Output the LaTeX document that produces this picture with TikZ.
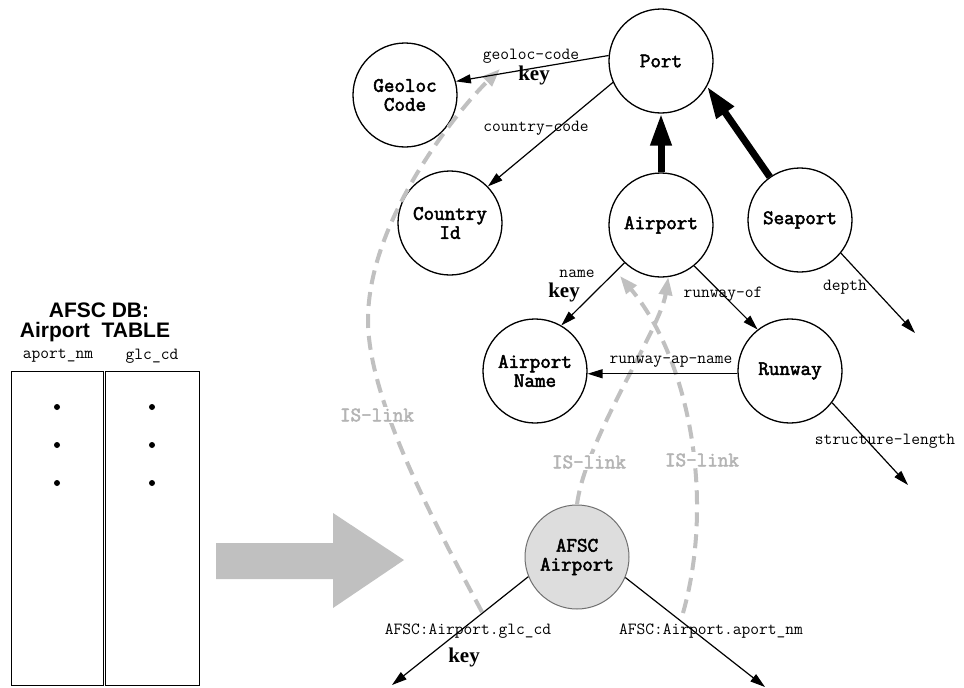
\documentclass[tikz,border=0pt]{standalone}
\usepackage{fontspec}
\setmainfont{Liberation Serif}
\setsansfont{Liberation Sans}
\newfontfamily\nodett[FakeBold=2.5]{Latin Modern Mono}
\usetikzlibrary{arrows.meta}
\definecolor{linkgray}{HTML}{C0C0C0}
\definecolor{islabel}{HTML}{B4B4B4}
\definecolor{afscfill}{HTML}{DDDDDD}
\definecolor{afscdraw}{HTML}{707070}
\begin{document}
\begin{tikzpicture}[x=1pt,y=-1pt,
  ent/.style={circle, draw, line width=1.3pt, minimum size=104pt, inner sep=0pt, align=center,
    font=\nodett\fontsize{20.5}{19}\selectfont},
  rel/.style={line width=1.2pt, -{Triangle[length=15pt,width=9pt]}},
  isa/.style={line width=7pt, -{Triangle[length=32pt,width=20pt]}},
  islink/.style={draw=linkgray, line width=4pt, dash pattern=on 14pt off 8pt,
    -{Triangle[length=18pt,width=13pt]}},
  lbl/.style={font=\ttfamily\fontsize{17}{17}\selectfont, inner sep=0pt},
  keylbl/.style={font=\bfseries\fontsize{21}{21}\selectfont, inner sep=0pt},
  islbl/.style={font=\nodett\fontsize{20.5}{18}\selectfont, text=islabel, fill=white, inner sep=1pt},
  colbox/.style={draw, line width=1pt, minimum width=92pt, minimum height=314pt, inner sep=0pt}]
\useasboundingbox (0,0) rectangle (964,688);
\fill[white] (0,0) rectangle (964,688);

% table
\node[font=\sffamily\bfseries\fontsize{21}{22}\selectfont, inner sep=0pt] (t1) at (99,310) {AFSC DB:};
\node[font=\sffamily\bfseries\fontsize{21}{22}\selectfont, inner sep=0pt] (t2) at (95,332) {Airport\ \ TABLE};
\node[lbl] (h1) at (58,356) {aport\_nm};
\node[lbl] (h2) at (152,356) {glc\_cd};
\node[colbox] (colA) at (57,528) {};
\node[colbox, minimum width=94pt] (colB) at (152,528) {};
\foreach \yy in {407,445,483} {
  \fill (57,\yy) circle (3pt);
  \fill (152,\yy) circle (3pt);
}

% big arrow
\fill[linkgray] (216,543) -- (333,543) -- (333,513) -- (404,560) -- (333,608) -- (333,579) -- (216,579) -- cycle;

% entity nodes
\node[ent] (port) at (661,61) {Port};
\node[ent] (geo) at (405,95) {Geoloc\\Code};
\node[ent] (cid) at (450,223) {Country\\Id};
\node[ent] (air) at (661,225) {Airport};
\node[ent] (sea) at (800,220) {Seaport};
\node[ent] (aname) at (535,371) {Airport\\Name};
\node[ent] (run) at (790,371) {Runway};
\node[ent, fill=afscfill, draw=afscdraw, line width=1pt] (afsc) at (577,557) {AFSC\\Airport};

% IS-links
\coordinate (is1s) at (482,612);
\coordinate (is1m) at (368,320);
\coordinate (is1e) at (500,69);
\coordinate (is3s) at (683,613);
\coordinate (is3e) at (620,276);
\draw[islink] (is1s) .. controls (435,524) and (368,400) .. (is1m) .. controls (368,220) and (458,110) .. (is1e);
\draw[islink] (afsc.north) .. controls (585,440) and (660,330) .. (air.-82);
\draw[islink] (is3s) .. controls (715,500) and (690,360) .. (is3e);
\node[islbl] (il1) at (377,415) {IS-link};
\node[islbl] (il2) at (589,462) {IS-link};
\node[islbl] (il3) at (702,460) {IS-link};

% relations
\draw[rel] (port.174) -- (geo.15);
\draw[rel] (port.204) -- (cid.44);
\draw[isa] (air.north) -- (port.south);
\draw[isa] (sea.125) -- (port.-29);
\draw[rel] (air.226) -- (aname.60);
\draw[rel] (air.-51) -- (run.128);
\draw[rel] (run.183) -- (aname.357);
\coordinate (depthend) at (915,333);
\coordinate (slend) at (908,485);
\coordinate (glcend) at (392,685);
\coordinate (aptend) at (765,687);
\draw[rel] (sea.-39) -- (depthend);
\draw[rel] (run.-37) -- (slend);
\draw[rel] (afsc.202) -- (glcend);
\draw[rel] (afsc.-23) -- (aptend);

% labels
\node[lbl] (l1) at (531,56) {geoloc-code};
\node[keylbl] (k1) at (534,75) {key};
\node[lbl] (l2) at (536,128) {country-code};
\node[lbl] (l3) at (577,274) {name};
\node[keylbl] (k2) at (564,292) {key};
\node[lbl] (l4) at (723,294) {runway-of};
\node[lbl] (l5) at (671,362) {runway-ap-name};
\node[lbl] (l6) at (845,287) {depth};
\node[lbl] (l7) at (885,441) {structure-length};
\node[lbl] (l8) at (468,631) {AFSC:Airport.glc\_cd};
\node[keylbl] (k3) at (464,657) {key};
\node[lbl] (l9) at (711,631) {AFSC:Airport.aport\_nm};
\end{tikzpicture}
\end{document}
